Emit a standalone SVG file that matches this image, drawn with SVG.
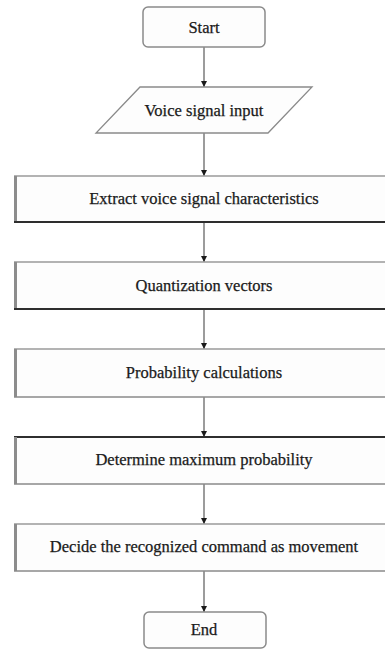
<svg xmlns="http://www.w3.org/2000/svg" width="385" height="650" viewBox="0 0 385 650">
  <style>
    .bg { fill: #ffffff; }
    .term { fill: #fdfdfd; stroke: #8a8a8a; stroke-width: 1.5; }
    .io { fill: #fdfdfd; stroke: #8a8a8a; stroke-width: 1.3; }
    .proc { fill: #fdfdfd; }
    .edge-top { stroke: #9a9a9a; stroke-width: 1.5; }
    .edge-left { stroke: #8c8c8c; stroke-width: 3; }
    .edge-bottom { stroke: #2e2e2e; stroke-width: 2; }
    .soft-bottom { stroke: #8a8a8a; stroke-width: 1.5; }
    .dark-top { stroke: #2e2e2e; stroke-width: 2; }
    .label { font-family: 'Liberation Serif', 'Times New Roman', serif; font-size: 16.5px; fill: #1a1a1a; stroke: #1a1a1a; stroke-width: 0.25; text-anchor: middle; }
    .conn { stroke: #5a5a5a; stroke-width: 1.2; fill: none; marker-end: url(#arrow); }
  </style>
  <defs>
    <marker id="arrow" viewBox="0 0 10 10" refX="10" refY="5" markerWidth="6" markerHeight="6" markerUnits="userSpaceOnUse" orient="auto">
      <path d="M0,0 L10,5 L0,10 z" fill="#1a1a1a"/>
    </marker>
  </defs>

  <rect class="bg" x="0" y="0" width="385" height="650"/>

  <!-- connectors -->
  <g id="connectors">
    <line class="conn" x1="204" y1="47" x2="204" y2="87"/>
    <line class="conn" x1="204" y1="133" x2="204" y2="176"/>
    <line class="conn" x1="204" y1="222" x2="204" y2="262"/>
    <line class="conn" x1="204" y1="309" x2="204" y2="349"/>
    <line class="conn" x1="204" y1="397" x2="204" y2="437"/>
    <line class="conn" x1="204" y1="484" x2="204" y2="524"/>
    <line class="conn" x1="204" y1="571" x2="204" y2="612"/>
  </g>

  <g id="start">
    <rect class="term" x="143" y="7" width="122" height="40" rx="5"/>
    <text class="label" x="204" y="33">Start</text>
  </g>

  <g id="voice-input">
    <polygon class="io" points="140,87 312,87 268,133 96,133"/>
    <text class="label" x="204" y="116">Voice signal input</text>
  </g>

  <g id="extract">
    <rect class="proc" x="14" y="176" width="390" height="46"/>
    <line class="edge-top" x1="14" y1="176" x2="400" y2="176"/>
    <line class="edge-left" x1="15.5" y1="176" x2="15.5" y2="222"/>
    <line class="edge-bottom" x1="14" y1="222" x2="400" y2="222"/>
    <text class="label" x="204" y="204">Extract voice signal characteristics</text>
  </g>

  <g id="quantization">
    <rect class="proc" x="14" y="262" width="390" height="47"/>
    <line class="edge-top" x1="14" y1="262" x2="400" y2="262"/>
    <line class="edge-left" x1="15.5" y1="262" x2="15.5" y2="309"/>
    <line class="edge-bottom" x1="14" y1="309" x2="400" y2="309"/>
    <text class="label" x="204" y="291">Quantization vectors</text>
  </g>

  <g id="probability">
    <rect class="proc" x="14" y="349" width="390" height="48"/>
    <line class="edge-top" x1="14" y1="349" x2="400" y2="349"/>
    <line class="edge-left" x1="15.5" y1="349" x2="15.5" y2="397"/>
    <line class="soft-bottom" x1="14" y1="397" x2="400" y2="397"/>
    <text class="label" x="204" y="378">Probability calculations</text>
  </g>

  <g id="maximum">
    <rect class="proc" x="14" y="437" width="390" height="47"/>
    <line class="dark-top" x1="14" y1="437" x2="400" y2="437"/>
    <line class="edge-left" x1="15.5" y1="437" x2="15.5" y2="484"/>
    <line class="soft-bottom" x1="14" y1="484" x2="400" y2="484"/>
    <text class="label" x="204" y="465">Determine maximum probability</text>
  </g>

  <g id="decide">
    <rect class="proc" x="14" y="524" width="390" height="47"/>
    <line class="edge-top" x1="14" y1="524" x2="400" y2="524"/>
    <line class="edge-left" x1="15.5" y1="524" x2="15.5" y2="571"/>
    <line class="soft-bottom" x1="14" y1="571" x2="400" y2="571"/>
    <text class="label" x="204" y="552">Decide the recognized command as movement</text>
  </g>

  <g id="end">
    <rect class="term" x="144" y="612" width="122" height="36" rx="5"/>
    <text class="label" x="204" y="635">End</text>
  </g>
</svg>
